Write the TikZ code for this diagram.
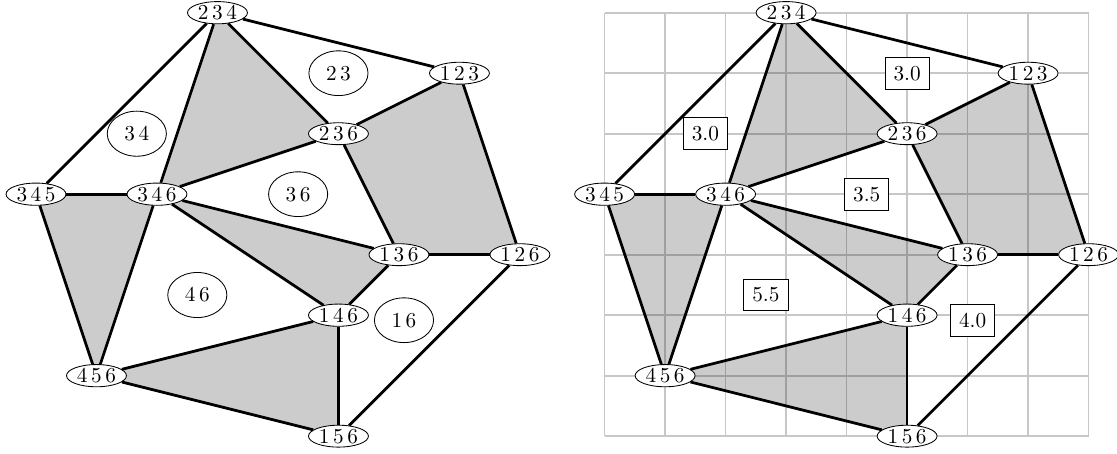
\documentclass[tikz,border=0pt]{standalone}
\usetikzlibrary{shapes.geometric,backgrounds}

\tikzset{
  vert/.style={draw, ellipse, fill=white, inner xsep=0.8pt, inner ysep=0.2pt},
  facelab/.style={draw, ellipse, inner sep=4pt},
  arealab/.style={draw, rectangle, fill=white, inner sep=4pt},
  link/.style={line width=1.3pt},
  face/.style={fill=black, fill opacity=0.2},
}

\begin{document}
\begin{tikzpicture}
    \useasboundingbox (-0.595,-0.28) rectangle (17.87,7.21);

    % left: the labelled faces
    \node[vert] (l234) at (3,7) {2\,3\,4};
    \node[vert] (l123) at (7,6) {1\,2\,3};
    \node[vert] (l236) at (5,5) {2\,3\,6};
    \node[vert] (l345) at (0,4) {3\,4\,5};
    \node[vert] (l346) at (2,4) {3\,4\,6};
    \node[vert] (l136) at (6,3) {1\,3\,6};
    \node[vert] (l126) at (8,3) {1\,2\,6};
    \node[vert] (l146) at (5,2) {1\,4\,6};
    \node[vert] (l456) at (1,1) {4\,5\,6};
    \node[vert] (l156) at (5,0) {1\,5\,6};

    \node[facelab] (l23) at (5,6) {2\,3};
    \node[facelab] (l34) at (5/3,5) {3\,4};
    \node[facelab] (l36) at (13/3,4) {3\,6};
    \node[facelab] (l46) at (8/3,7/3) {4\,6};
    \node[facelab] (l16) at (73/12,23/12) {1\,6};

    \draw[link] (l234) -- (l123);
    \draw[link] (l234) -- (l345);
    \draw[link] (l234) -- (l346);
    \draw[link] (l234) -- (l236);
    \draw[link] (l123) -- (l236);
    \draw[link] (l123) -- (l126);
    \draw[link] (l236) -- (l346);
    \draw[link] (l236) -- (l136);
    \draw[link] (l345) -- (l346);
    \draw[link] (l345) -- (l456);
    \draw[link] (l346) -- (l456);
    \draw[link] (l346) -- (l136);
    \draw[link] (l346) -- (l146);
    \draw[link] (l136) -- (l126);
    \draw[link] (l136) -- (l146);
    \draw[link] (l146) -- (l456);
    \draw[link] (l146) -- (l156);
    \draw[link] (l456) -- (l156);
    \draw[link] (l126) -- (l156);

    \begin{scope}[on background layer]
        \fill[face] (l234.center) -- (l346.center) -- (l236.center) -- cycle;
        \fill[face] (l236.center) -- (l123.center) -- (l126.center) -- (l136.center) -- cycle;
        \fill[face] (l345.center) -- (l346.center) -- (l456.center) -- cycle;
        \fill[face] (l346.center) -- (l136.center) -- (l146.center) -- cycle;
        \fill[face] (l456.center) -- (l146.center) -- (l156.center) -- cycle;
    \end{scope}

    % right: same graph on the grid, with the areas
    \begin{scope}[xshift=9.4cm]
        \node[vert] (r234) at (3,7) {2\,3\,4};
        \node[vert] (r123) at (7,6) {1\,2\,3};
        \node[vert] (r236) at (5,5) {2\,3\,6};
        \node[vert] (r345) at (0,4) {3\,4\,5};
        \node[vert] (r346) at (2,4) {3\,4\,6};
        \node[vert] (r136) at (6,3) {1\,3\,6};
        \node[vert] (r126) at (8,3) {1\,2\,6};
        \node[vert] (r146) at (5,2) {1\,4\,6};
        \node[vert] (r456) at (1,1) {4\,5\,6};
        \node[vert] (r156) at (5,0) {1\,5\,6};

        \node[arealab] (r23) at (5,6) {3.0};
        \node[arealab] (r34) at (5/3,5) {3.0};
        \node[arealab] (r36) at (13/3,4) {3.5};
        \node[arealab] (r46) at (8/3,7/3) {5.5};
        \node[arealab] (r16) at (73/12,23/12) {4.0};

        \draw[link] (r234) -- (r123);
        \draw[link] (r234) -- (r345);
        \draw[link] (r234) -- (r346);
        \draw[link] (r234) -- (r236);
        \draw[link] (r123) -- (r236);
        \draw[link] (r123) -- (r126);
        \draw[link] (r236) -- (r346);
        \draw[link] (r236) -- (r136);
        \draw[link] (r345) -- (r346);
        \draw[link] (r345) -- (r456);
        \draw[link] (r346) -- (r456);
        \draw[link] (r346) -- (r136);
        \draw[link] (r346) -- (r146);
        \draw[link] (r136) -- (r126);
        \draw[link] (r136) -- (r146);
        \draw[link] (r146) -- (r456);
        \draw[link] (r146) -- (r156);
        \draw[link] (r456) -- (r156);
        \draw[link] (r126) -- (r156);

        \begin{scope}[on background layer]
            \draw[step=1, black!22, line width=0.8pt] (0,0) grid (8,7);
            \fill[face] (r234.center) -- (r346.center) -- (r236.center) -- cycle;
            \fill[face] (r236.center) -- (r123.center) -- (r126.center) -- (r136.center) -- cycle;
            \fill[face] (r345.center) -- (r346.center) -- (r456.center) -- cycle;
            \fill[face] (r346.center) -- (r136.center) -- (r146.center) -- cycle;
            \fill[face] (r456.center) -- (r146.center) -- (r156.center) -- cycle;
        \end{scope}
    \end{scope}
\end{tikzpicture}
\end{document}
